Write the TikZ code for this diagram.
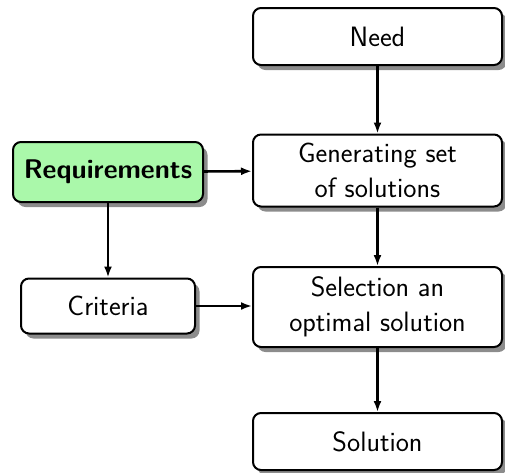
\documentclass[tikz,border=0pt]{standalone}
\usepackage{fontspec}
\usetikzlibrary{arrows.meta,shadows}
\definecolor{reqgreen}{RGB}{170,248,170}
\tikzset{
  box/.style={draw=black, line width=2pt, rounded corners=8pt, fill=white,
    inner sep=0pt, align=center,
    font=\sffamily\fontsize{28}{35}\selectfont,
    drop shadow={shadow xshift=4.5pt, shadow yshift=-5pt, fill=black!45, opacity=1}},
  link/.style={line width=2.6pt, -{Latex[length=11pt,width=8pt]}}
}
\begin{document}
\begin{tikzpicture}[x=1pt,y=-1pt]
\useasboundingbox (0,0) rectangle (505,472);
\node[box, minimum width=249pt, minimum height=57pt] (need) at (377.5,36.5) {Need};
\node[box, minimum width=249pt, minimum height=72pt] (gen) at (377.5,170.5) {Generating set\\of solutions};
\node[box, minimum width=249pt, minimum height=80pt] (sel) at (377.5,307) {Selection an\\optimal solution};
\node[box, minimum width=249pt, minimum height=57pt] (sol) at (377.5,441.5) {Solution};
\node[box, fill=reqgreen, minimum width=190pt, minimum height=60pt, font=\sffamily\bfseries\fontsize{27}{34}\selectfont] (req) at (108,172) {Requirements};
\node[box, minimum width=174pt, minimum height=55pt] (crit) at (108,306) {Criteria};
\draw[link] (need) -- (gen);
\draw[link] (gen) -- (sel);
\draw[link] (sel) -- (sol);
\draw[link] (req) -- (gen);
\draw[link] (req) -- (crit);
\draw[link] (crit) -- (crit -| sel.west);
\end{tikzpicture}
\end{document}
